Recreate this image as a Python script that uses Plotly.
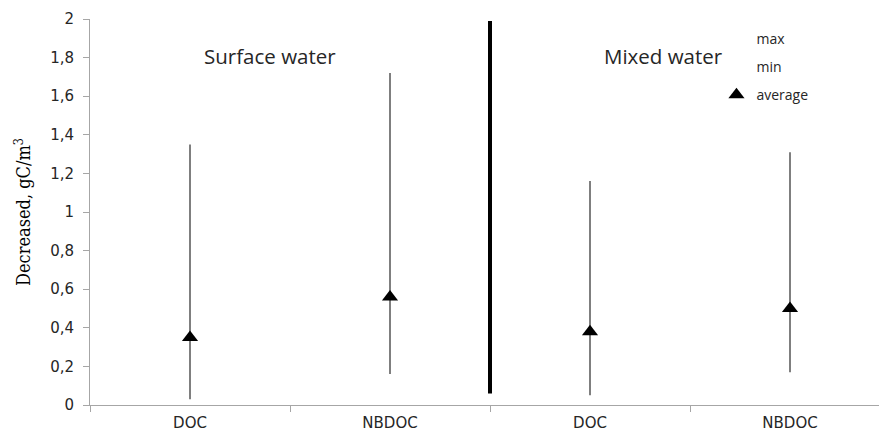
import plotly.graph_objects as go

categories = ["DOC", "NBDOC", "DOC", "NBDOC"]
x_pos = [0, 1, 2, 3]
max_vals = [1.35, 1.72, 1.16, 1.31]
min_vals = [0.03, 0.16, 0.05, 0.17]
avg_vals = [0.35, 0.56, 0.38, 0.50]
divider_x = [1.5, 1.5]
divider_y = [0.06, 1.99]
group_labels = ["Surface water", "Mixed water"]
group_label_x = [0.4, 2.365]
group_label_y = 1.81

FONT = "Open Sans"
TICKFONT = "DejaVu Sans"
TXT = "#262626"

# hi-lo lines
lx, ly = [], []
for x, lo, hi in zip(x_pos, min_vals, max_vals):
    lx += [x, x, None]
    ly += [lo, hi, None]

fig = go.Figure()
fig.add_trace(go.Scatter(x=lx, y=ly, mode="lines", line=dict(color="#555555", width=1.5),
                         showlegend=False, hoverinfo="skip"))
fig.add_trace(go.Scatter(x=divider_x, y=divider_y, mode="lines", line=dict(color="black", width=4),
                         showlegend=False, hoverinfo="skip"))
fig.add_trace(go.Scatter(x=x_pos, y=max_vals, mode="markers", name="max",
                         marker=dict(size=1, color="rgba(0,0,0,0)"), legendgroup="a"))
fig.add_trace(go.Scatter(x=x_pos, y=min_vals, mode="markers", name="min",
                         marker=dict(size=1, color="rgba(0,0,0,0)"), legendgroup="b"))
fig.add_trace(go.Scatter(x=x_pos, y=avg_vals, mode="markers", name="average", legendgroup="c",
                         marker=dict(symbol="triangle-up", size=14, color="black")))

for t, gx in zip(group_labels, group_label_x):
    fig.add_annotation(x=gx, y=group_label_y, text=t, showarrow=False,
                       font=dict(family=FONT, size=20.5, color=TXT))

fig.update_layout(
    width=879, height=431,
    margin=dict(l=90, r=0, t=19, b=26),
    plot_bgcolor="white", paper_bgcolor="white",
    legend=dict(x=0.794, y=0.99, xanchor="left", yanchor="top", tracegroupgap=7,
                font=dict(family=FONT, size=14, color=TXT), itemwidth=30,
                bgcolor="rgba(0,0,0,0)"),
    xaxis=dict(range=[-0.5, 3.445], tickvals=x_pos, ticktext=categories, ticks="",
               showgrid=False, zeroline=False, showline=True, linecolor="#a6a6a6", linewidth=1,
               tickfont=dict(family=TICKFONT, size=15, color=TXT), ticklabelstandoff=4,
               minor=dict(tick0=0.5, dtick=1, ticks="outside", ticklen=6, tickcolor="#a6a6a6", showgrid=False)),
    yaxis=dict(range=[0, 2], tickvals=[0, 0.2, 0.4, 0.6, 0.8, 1, 1.2, 1.4, 1.6, 1.8, 2],
               ticktext=["0", "0,2", "0,4", "0,6", "0,8", "1", "1,2", "1,4", "1,6", "1,8", "2"],
               ticks="outside", ticklen=6, tickcolor="#a6a6a6", ticklabelstandoff=6,
               showgrid=False, zeroline=False, showline=True, linecolor="#a6a6a6", linewidth=1,
               tickfont=dict(family=TICKFONT, size=15, color=TXT),
               title=dict(text="Decreased, gC/m<sup>3</sup>", standoff=14,
                          font=dict(family="DejaVu Serif Condensed", size=18, color="black"))),
)

fig.write_html("out.html")
